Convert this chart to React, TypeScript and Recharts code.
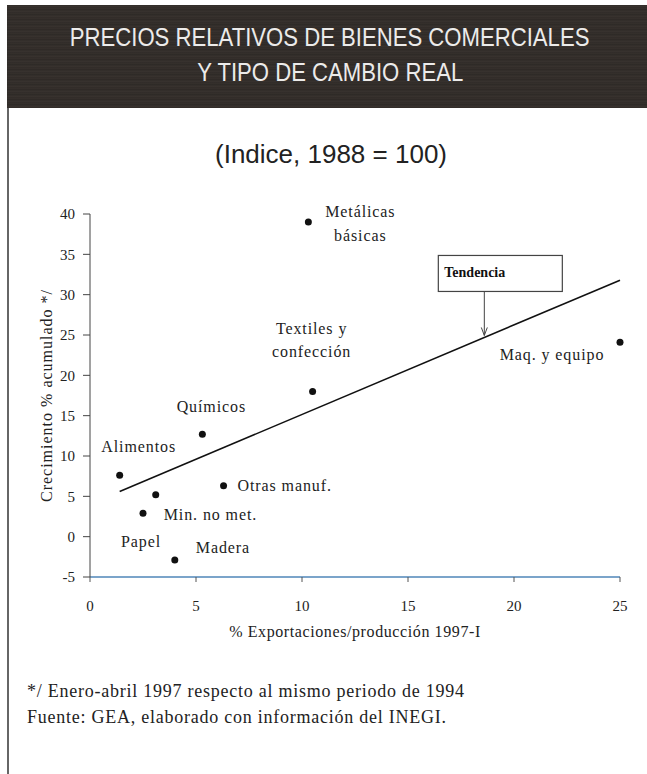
import { ScatterChart, Scatter, XAxis, YAxis, ReferenceDot, Label } from 'recharts'

const sectors = ['Alimentos', 'Min. no met.', 'Papel', 'Madera', 'Químicos', 'Otras manuf.', 'Textiles y confección', 'Metálicas básicas', 'Maq. y equipo']
const exportShare = [1.4, 3.1, 2.5, 4.0, 5.3, 6.3, 10.5, 10.3, 25.0]
const growth = [7.6, 5.2, 2.9, -2.9, 12.7, 6.3, 18.0, 39.0, 24.1]

const trendX = [1.4, 25]
const trendY = [5.6, 31.8]
const trendMarkX = 18.6

const xTicks = [0, 5, 10, 15, 20, 25]
const yTicks = [-5, 0, 5, 10, 15, 20, 25, 30, 35, 40]

const points = sectors.map((name, i) => ({ name, x: exportShare[i], y: growth[i] }))
const trend = trendX.map((x, i) => ({ x, y: trendY[i] }))
const trendMarkY = trendY[0] + ((trendMarkX - trendX[0]) * (trendY[1] - trendY[0])) / (trendX[1] - trendX[0])

// where each label sits relative to its dot
const labelPos: Record<string, { dx: number; dy: number[]; anchor: string; lines: string[] }> = {
  'Alimentos': { dx: 19, dy: [-28], anchor: 'middle', lines: ['Alimentos'] },
  'Min. no met.': { dx: 8, dy: [20], anchor: 'start', lines: ['Min. no met.'] },
  'Papel': { dx: -2, dy: [29], anchor: 'middle', lines: ['Papel'] },
  'Madera': { dx: 21, dy: [-12], anchor: 'start', lines: ['Madera'] },
  'Químicos': { dx: 9, dy: [-27], anchor: 'middle', lines: ['Químicos'] },
  'Otras manuf.': { dx: 14, dy: [0], anchor: 'start', lines: ['Otras manuf.'] },
  'Textiles y confección': { dx: -1, dy: [-62, -39], anchor: 'middle', lines: ['Textiles y', 'confección'] },
  'Metálicas básicas': { dx: 52, dy: [-10, 14], anchor: 'middle', lines: ['Metálicas', 'básicas'] },
  'Maq. y equipo': { dx: -68, dy: [13], anchor: 'middle', lines: ['Maq. y equipo'] },
}

const serif = "'Liberation Serif', 'Times New Roman', serif"

function Dot(props: any) {
  const { cx, cy, payload } = props
  const lp = labelPos[payload.name]
  return (
    <g>
      <circle cx={cx} cy={cy} r={3.5} fill="#111" />
      {lp.lines.map((t, i) => (
        <text key={i} x={cx + lp.dx} y={cy + lp.dy[i] + 5} textAnchor={lp.anchor as any} fontFamily={serif} fontSize={16} letterSpacing={0.9} fill="#222">
          {t}
        </text>
      ))}
    </g>
  )
}

function TrendNote(props: any) {
  const { cx, cy } = props
  return (
    <g>
      <rect x={cx - 46} y={cy - 82} width={124} height={36} fill="#fff" stroke="#444" strokeWidth={1.2} />
      <text x={cx - 40} y={cy - 60} fontFamily={serif} fontSize={14} fontWeight="bold" fill="#111">Tendencia</text>
      <line x1={cx} y1={cy - 46} x2={cx} y2={cy - 2} stroke="#444" strokeWidth={1} />
      <path d={`M${cx - 3},${cy - 10} L${cx},${cy - 2} L${cx + 3},${cy - 10}`} fill="none" stroke="#444" strokeWidth={1} />
    </g>
  )
}

const titleLine = { display: 'inline-block', transform: 'scaleX(0.885)', whiteSpace: 'nowrap' as const }

export default function App() {
  return (
    <div style={{ position: 'absolute', left: 0, top: 0, width: 647, height: 774, background: '#fff', overflow: 'hidden' }}>
      <div
        style={{
          position: 'absolute', left: 7, top: 5, width: 640, height: 103,
          background: 'repeating-linear-gradient(0deg, #2f2a27 0px, #3a3430 2px, #2c2825 3px, #37312d 5px)',
        }}
      />
      <div style={{ position: 'absolute', left: 7, top: 108, width: 2, height: 666, background: '#666' }} />
      <div
        style={{
          position: 'absolute', left: 0, top: 20, width: 660, textAlign: 'center', color: '#ecebea',
          fontFamily: "'Liberation Sans', Arial, sans-serif", fontSize: 25, lineHeight: '35px',
        }}
      >
        <span style={titleLine}>PRECIOS RELATIVOS DE BIENES COMERCIALES</span>
        <br />
        <span style={titleLine}>Y TIPO DE CAMBIO REAL</span>
      </div>
      <div
        style={{
          position: 'absolute', left: 0, top: 139, width: 662, textAlign: 'center', color: '#222',
          fontFamily: "'Liberation Sans', Arial, sans-serif", fontSize: 26,
        }}
      >
        (Indice, 1988 = 100)
      </div>

      <div style={{ position: 'absolute', left: 0, top: 0 }}>
        <ScatterChart width={647} height={774} margin={{ top: 214, right: 27, bottom: 137, left: 40 }}>
          <XAxis
            type="number" dataKey="x" domain={[0, 25]} ticks={xTicks} interval={0}
            height={60} tickSize={5} tickMargin={18}
            axisLine={{ stroke: '#4f86b8', strokeWidth: 1.5 }} tickLine={{ stroke: '#555' }}
            tick={{ fontFamily: serif, fontSize: 15, fill: '#222' }}
          >
            <Label
              content={({ viewBox }: any) => (
                <text x={viewBox.x + viewBox.width / 2} y={637} textAnchor="middle" fontFamily={serif} fontSize={16} letterSpacing={0.6} fill="#222">
                  % Exportaciones/producción 1997-I
                </text>
              )}
            />
          </XAxis>
          <YAxis
            type="number" dataKey="y" domain={[-5, 40]} ticks={yTicks} interval={0}
            width={50} tickSize={7} tickMargin={8}
            axisLine={{ stroke: '#444' }} tickLine={{ stroke: '#444' }}
            tick={{ fontFamily: serif, fontSize: 15, fill: '#222' }}
          >
            <Label
              content={({ viewBox }: any) => {
                const cy = viewBox.y + viewBox.height / 2
                return (
                  <text x={52} y={cy} transform={`rotate(-90 52 ${cy})`} textAnchor="middle" fontFamily={serif} fontSize={16} letterSpacing={1} fill="#222">
                    Crecimiento % acumulado */
                  </text>
                )
              }}
            />
          </YAxis>
          <Scatter data={trend} line={{ stroke: '#111', strokeWidth: 1.6 }} shape={() => <g />} isAnimationActive={false} />
          <Scatter data={points} shape={Dot} isAnimationActive={false} />
          <ReferenceDot x={trendMarkX} y={trendMarkY} shape={TrendNote} />
        </ScatterChart>
      </div>

      <div style={{ position: 'absolute', left: 27, top: 678, fontFamily: serif, fontSize: 18, letterSpacing: 0.75, lineHeight: '26px', color: '#222' }}>
        */ Enero-abril 1997 respecto al mismo periodo de 1994
        <br />
        Fuente: GEA, elaborado con información del INEGI.
      </div>
    </div>
  )
}
